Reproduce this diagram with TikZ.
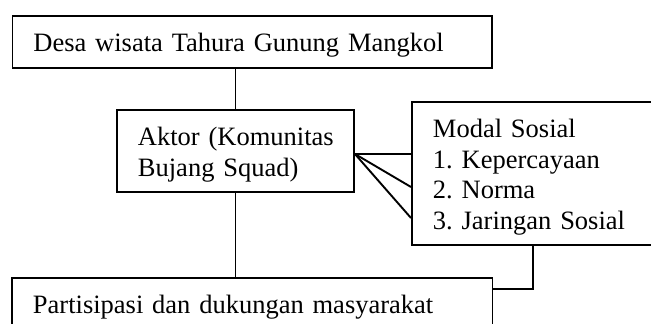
\documentclass[tikz,border=0pt]{standalone}
\usepackage{fontspec}
\setmainfont{Liberation Serif}
\usetikzlibrary{calc}
\begin{document}
\frenchspacing
\begin{tikzpicture}[x=1pt,y=-1pt,
  box/.style={draw=black, line width=1.9pt, anchor=north west, inner xsep=21pt, inner ysep=0pt,
    align=left, font=\fontsize{26.5}{30.3}\selectfont\frenchspacing, text height=36pt},
  conn/.style={draw=black, line width=1.9pt}]
\useasboundingbox (0,0) rectangle (651,324);
\clip (0,0) rectangle (651,324);
\node (top) [box, text width=437.5pt, text depth=16pt] at (11.5,15) {\mbox{Desa wisata Tahura Gunung Mangkol}};
\node (aktor) [box, text width=195pt, text depth=46pt] at (116,109) {\mbox{Aktor (Komunitas}\\\mbox{Bujang Squad)}};
\node (modal) [box, text width=217pt, text depth=107pt, font=\fontsize{26.5}{30.5}\selectfont\frenchspacing] at (411,101) {\mbox{Modal Sosial}\\\mbox{1. Kepercayaan}\\\mbox{2. Norma}\\\mbox{3. Jaringan Sosial}};
\node (part) [box, text width=438.5pt, text depth=30pt] at (11,277) {\mbox{Partisipasi dan dukungan masyarakat}};
\coordinate (fan) at ($(aktor.east)+(0,3)$);
\draw[conn] (aktor.north) -- (aktor.north |- top.south);
\draw[conn] (aktor.south) -- (aktor.south |- part.north);
\draw[conn] (fan) -- (modal.west |- 0,154);
\draw[conn] (fan) -- (modal.west |- 0,187);
\draw[conn] (fan) -- (modal.west |- 0,218);
\draw[conn] ($(modal.south west)+(122,0)$) |- ($(part.north east)+(0,12)$);
\end{tikzpicture}
\end{document}
